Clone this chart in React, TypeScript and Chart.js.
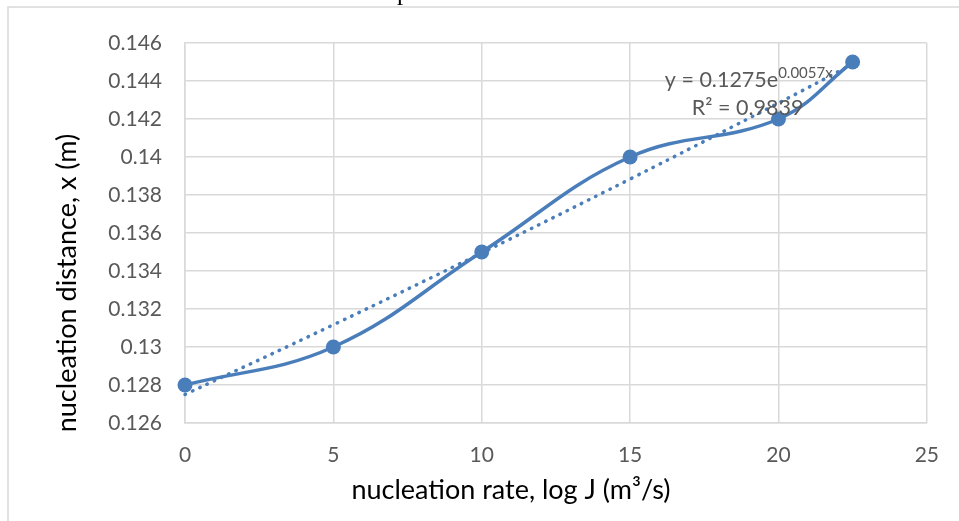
import React, { useEffect, useRef } from "react";
import { Chart, registerables } from "chart.js";

Chart.register(...registerables);

const xValues = [0, 5, 10, 15, 20, 22.5];
const distance = [0.128, 0.13, 0.135, 0.14, 0.142, 0.145];
const trendX = [0, 5, 10, 15, 20, 22.5];
const trendY = [0.1275, 0.13117, 0.13495, 0.13884, 0.14284, 0.14489];
const xTicks = [0, 5, 10, 15, 20, 25];
const yTicks = [0.126, 0.128, 0.13, 0.132, 0.134, 0.136, 0.138, 0.14, 0.142, 0.144, 0.146];

const chartTitle = "pressure";
const xTitle = "nucleation rate, log J (m³/s)";
const yTitle = "nucleation distance, x (m)";
const eqMain = "y = 0.1275e";
const eqSup = "0.0057x";
const r2Text = "R² = 0.9839";

const BLUE = "#4a7ebb";
const GRID = "#d9d9d9";
const TICK = "#595959";

export default function App() {
  const ref = useRef<HTMLCanvasElement | null>(null);

  useEffect(() => {
    document.body.style.margin = "0";
    const canvas = ref.current;
    if (!canvas) return;

    const decor = {
      id: "decor",
      beforeDraw(chart: any) {
        const ctx = chart.ctx;
        ctx.save();
        ctx.strokeStyle = GRID;
        ctx.lineWidth = 1.5;
        ctx.beginPath();
        ctx.moveTo(8, 521);
        ctx.lineTo(8, 7);
        ctx.lineTo(959, 7);
        ctx.stroke();
        ctx.fillStyle = "#000";
        ctx.font = '25px "Liberation Serif", "Times New Roman", serif';
        ctx.textAlign = "left";
        ctx.textBaseline = "alphabetic";
        ctx.fillText(chartTitle, 397, 0);
        ctx.restore();
      },
      afterDraw(chart: any) {
        const ctx = chart.ctx;
        const area = chart.chartArea;
        ctx.save();
        ctx.fillStyle = "#000";
        ctx.font = '27px Lato, "Open Sans", sans-serif';
        ctx.textAlign = "center";
        ctx.textBaseline = "middle";
        ctx.fillText(xTitle, 511, 490);
        ctx.save();
        ctx.translate(67, 283);
        ctx.rotate(-Math.PI / 2);
        ctx.fillText(yTitle, 0, 0);
        ctx.restore();
        ctx.fillStyle = TICK;
        ctx.textBaseline = "alphabetic";
        ctx.textAlign = "left";
        ctx.font = '21.5px Lato, "Open Sans", sans-serif';
        const x0 = area.right - 262;
        ctx.fillText(eqMain, x0, 87);
        const w = ctx.measureText(eqMain).width;
        ctx.font = '15px Lato, "Open Sans", sans-serif';
        ctx.fillText(eqSup, x0 + w, 78);
        ctx.font = '21.5px Lato, "Open Sans", sans-serif';
        ctx.fillText(r2Text, area.right - 235, 115);
        ctx.restore();
      },
    };

    const chart = new Chart(canvas, {
      type: "line",
      data: {
        datasets: [
          {
            label: "distance",
            data: xValues.map((x, i) => ({ x, y: distance[i] })),
            borderColor: BLUE,
            backgroundColor: BLUE,
            borderWidth: 3.5,
            tension: 0.4,
            pointRadius: 7.5,
            pointBorderWidth: 0,
            pointBackgroundColor: BLUE,
            clip: false as any,
          },
          {
            label: "trend",
            data: trendX.map((x, i) => ({ x, y: trendY[i] })),
            borderColor: BLUE,
            borderWidth: 3.5,
            borderDash: [0.5, 7.5],
            borderCapStyle: "round",
            tension: 0.4,
            pointRadius: 0,
            clip: false as any,
          },
        ],
      },
      options: {
        responsive: false,
        animation: false,
        events: [],
        layout: { padding: { left: 0, top: 43, right: 32, bottom: 0 } },
        plugins: {
          legend: { display: false },
          tooltip: { enabled: false },
          title: { display: false },
        },
        scales: {
          x: {
            type: "linear",
            min: 0,
            max: 25,
            afterFit: (s: any) => {
              s.height = 98;
            },
            afterBuildTicks: (s: any) => {
              s.ticks = xTicks.map((v) => ({ value: v }));
            },
            grid: { color: GRID, lineWidth: 1.5, drawTicks: false },
            border: { color: GRID, width: 1.5 },
            ticks: {
              color: TICK,
              font: { family: 'Lato, "Open Sans", sans-serif', size: 21 },
              padding: 20,
              maxRotation: 0,
              callback: (v: any) => String(v),
            },
          },
          y: {
            type: "linear",
            min: 0.126,
            max: 0.146,
            afterFit: (s: any) => {
              s.width = 185;
            },
            afterBuildTicks: (s: any) => {
              s.ticks = yTicks.map((v) => ({ value: v }));
            },
            grid: { color: GRID, lineWidth: 1.5, drawTicks: false },
            border: { color: GRID, width: 1.5 },
            ticks: {
              color: TICK,
              font: { family: 'Lato, "Open Sans", sans-serif', size: 21 },
              padding: 23,
              callback: (v: any) => String(Number(Number(v).toFixed(3))),
            },
          },
        },
      },
      plugins: [decor],
    });

    return () => chart.destroy();
  }, []);

  return (
    <div style={{ width: 959, height: 521, position: "relative" }}>
      <canvas ref={ref} width={959} height={521} style={{ display: "block" }} />
    </div>
  );
}
